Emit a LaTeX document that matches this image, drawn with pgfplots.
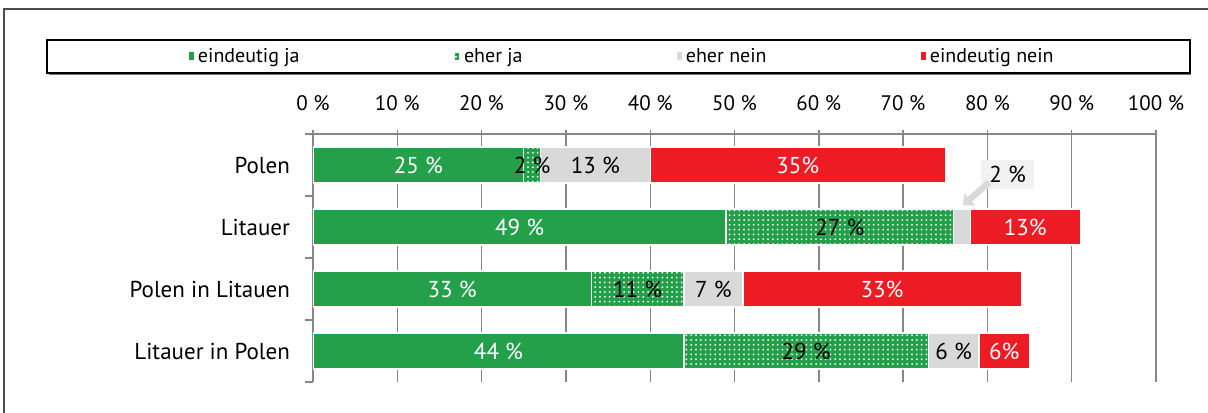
\documentclass[border=0pt]{standalone}
\usepackage{fontspec}
\setmainfont{PT Sans}
\usepackage{pgfplots}
\pgfplotsset{compat=1.18}
\usetikzlibrary{patterns.meta,arrows.meta}

\definecolor{jagreen}{HTML}{24A04A}
\definecolor{neinred}{HTML}{ED1C24}
\definecolor{neingray}{HTML}{D9D9D9}
\definecolor{axisgray}{HTML}{878787}
\definecolor{callout}{HTML}{F2F2F2}

\pgfplotsset{
  seg/.style={draw=white, line width=0.6pt,
    nodes near coords, point meta=explicit symbolic,
    every node near coord/.append style={anchor=center,
      font=\fontsize{11.5}{13}\selectfont}},
  dotted green/.style={fill=jagreen,
    postaction={pattern={Dots[distance=2.4pt,radius=0.5pt]}, pattern color=white}},
}

\begin{document}
\begin{tikzpicture}[x=1pt,y=1pt]
\path[use as bounding box] (0,0) rectangle (604,206);
% outer frame
\draw[black!70, line width=0.6pt] (2,-2) -- (2,201.5) -- (606,201.5);
% legend frame
\draw[black!55, line width=1.2pt] (24.3,168.9) -- (595.6,168.9);
\draw[black, line width=0.8pt] (23.5,169.5) rectangle (595,186);

\begin{axis}[
  at={(156.5pt,15pt)}, anchor=south west, scale only axis,
  width=421.5pt, height=124pt,
  xbar stacked, bar width=18pt,
  xmin=0, xmax=100, ymin=-0.5, ymax=3.5,
  axis x line*=top, axis y line*=left,
  axis line style={draw=axisgray, line width=0.7pt},
  tick align=outside, major tick length=2pt, minor tick length=4pt,
  tick style={draw=axisgray, line width=0.7pt},
  xtick={0,10,...,100},
  xticklabels={0 \%,10 \%,20 \%,30 \%,40 \%,50 \%,60 \%,70 \%,80 \%,90 \%,100 \%},
  xticklabel style={yshift=6pt, font=\fontsize{10.5}{12}\selectfont},
  xmajorgrids, grid style={draw=axisgray, line width=0.7pt},
  ytick={0,1,2,3},
  yticklabels={Litauer in Polen, Polen in Litauen, Litauer, Polen},
  minor ytick={-0.5,0.5,1.5,2.5,3.5},
  major y tick style={draw=none},
  yticklabel style={xshift=-6pt, font=\fontsize{11.5}{13}\selectfont},
  legend style={at={(0.368,1.3125)}, anchor=center, draw=none, fill=none,
    legend columns=4, font=\fontsize{10}{12}\selectfont,
    /tikz/every even column/.append style={column sep=75pt}},
  legend image code/.code={\draw[#1,draw=none] (0pt,-2pt) rectangle (2.6pt,2pt);},
]
\addplot[seg, fill=jagreen, every node near coord/.append style={text=white}]
  coordinates {(44,0)[44 \%] (33,1)[33 \%] (49,2)[49 \%] (25,3)[25 \%]};
\addplot[seg, dotted green, every node near coord/.append style={text=black}]
  coordinates {(29,0)[29 \%] (11,1)[11 \%] (27,2)[27 \%] (2,3)[2 \%]};
\addplot[seg, fill=neingray, every node near coord/.append style={text=black}]
  coordinates {(6,0)[6 \%] (7,1)[7 \%] (2,2)[{}] (13,3)[13 \%]};
\addplot[seg, fill=neinred, every node near coord/.append style={text=white}]
  coordinates {(6,0)[6\%] (33,1)[33\%] (13,2)[13\%] (35,3)[35\%]};
\legend{eindeutig ja, eher ja, eher nein, eindeutig nein}
% callout for the small gray segment of "Litauer"
\draw[neingray, line width=3.2pt, -{Triangle[length=4.5pt,width=8pt]}]
  (axis cs:80.2,2.72) -- (axis cs:77.1,2.35);
\node[fill=callout, minimum width=26.5pt, minimum height=14.5pt, inner sep=1pt,
  font=\fontsize{11.5}{13}\selectfont] at (axis cs:82.4,2.84) {2 \%};
\end{axis}
\end{tikzpicture}
\end{document}
